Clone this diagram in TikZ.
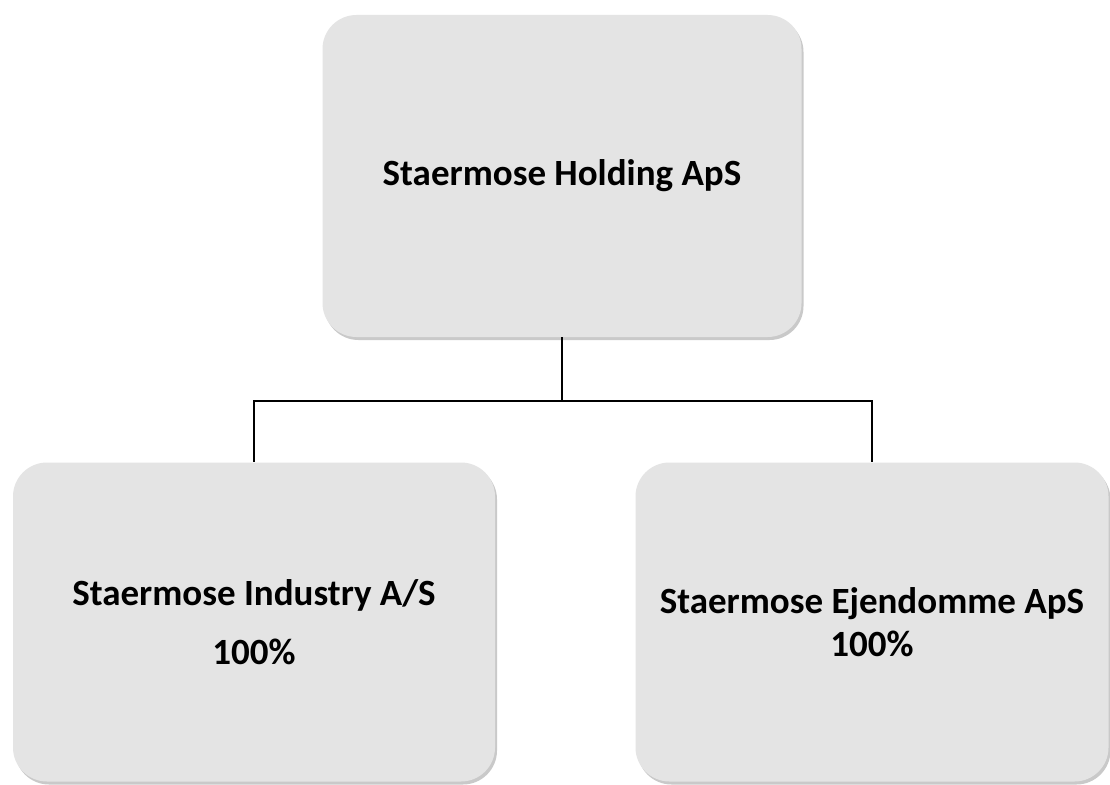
\documentclass[tikz,border=0pt]{standalone}
\usepackage{fontspec}
\setmainfont{Carlito}
\usetikzlibrary{shadows}

\tikzset{
  company/.style={rounded corners=34pt, fill=boxgray, align=center,
    font=\fontsize{37}{44}\selectfont\bfseries,
    drop shadow={shadow xshift=2pt, shadow yshift=-3pt, opacity=0.35, fill=black!60}},
  link/.style={line width=1.4pt, draw=black}
}
\definecolor{boxgray}{HTML}{E4E4E4}

\begin{document}
\begin{tikzpicture}[x=1pt,y=-1pt]
\useasboundingbox[fill=white] (0,0) rectangle (1110,784);
\node[company, minimum width=479pt, minimum height=322pt] (holding) at (562,176) {Staermose Holding ApS};
\node[company, minimum width=482pt, minimum height=319pt] (industry) at (254,622) {Staermose Industry A/S\\[15pt]100\%};
\node[company, minimum width=473pt, minimum height=319pt] (ejendomme) at (872,622) {Staermose Ejendomme ApS\\[-1pt]100\%};
\coordinate (bus) at (562,401);
\draw[link] (holding.south) -- (bus);
\draw[link] (bus) -| (industry.north);
\draw[link] (bus) -| (ejendomme.north);
\end{tikzpicture}
\end{document}
